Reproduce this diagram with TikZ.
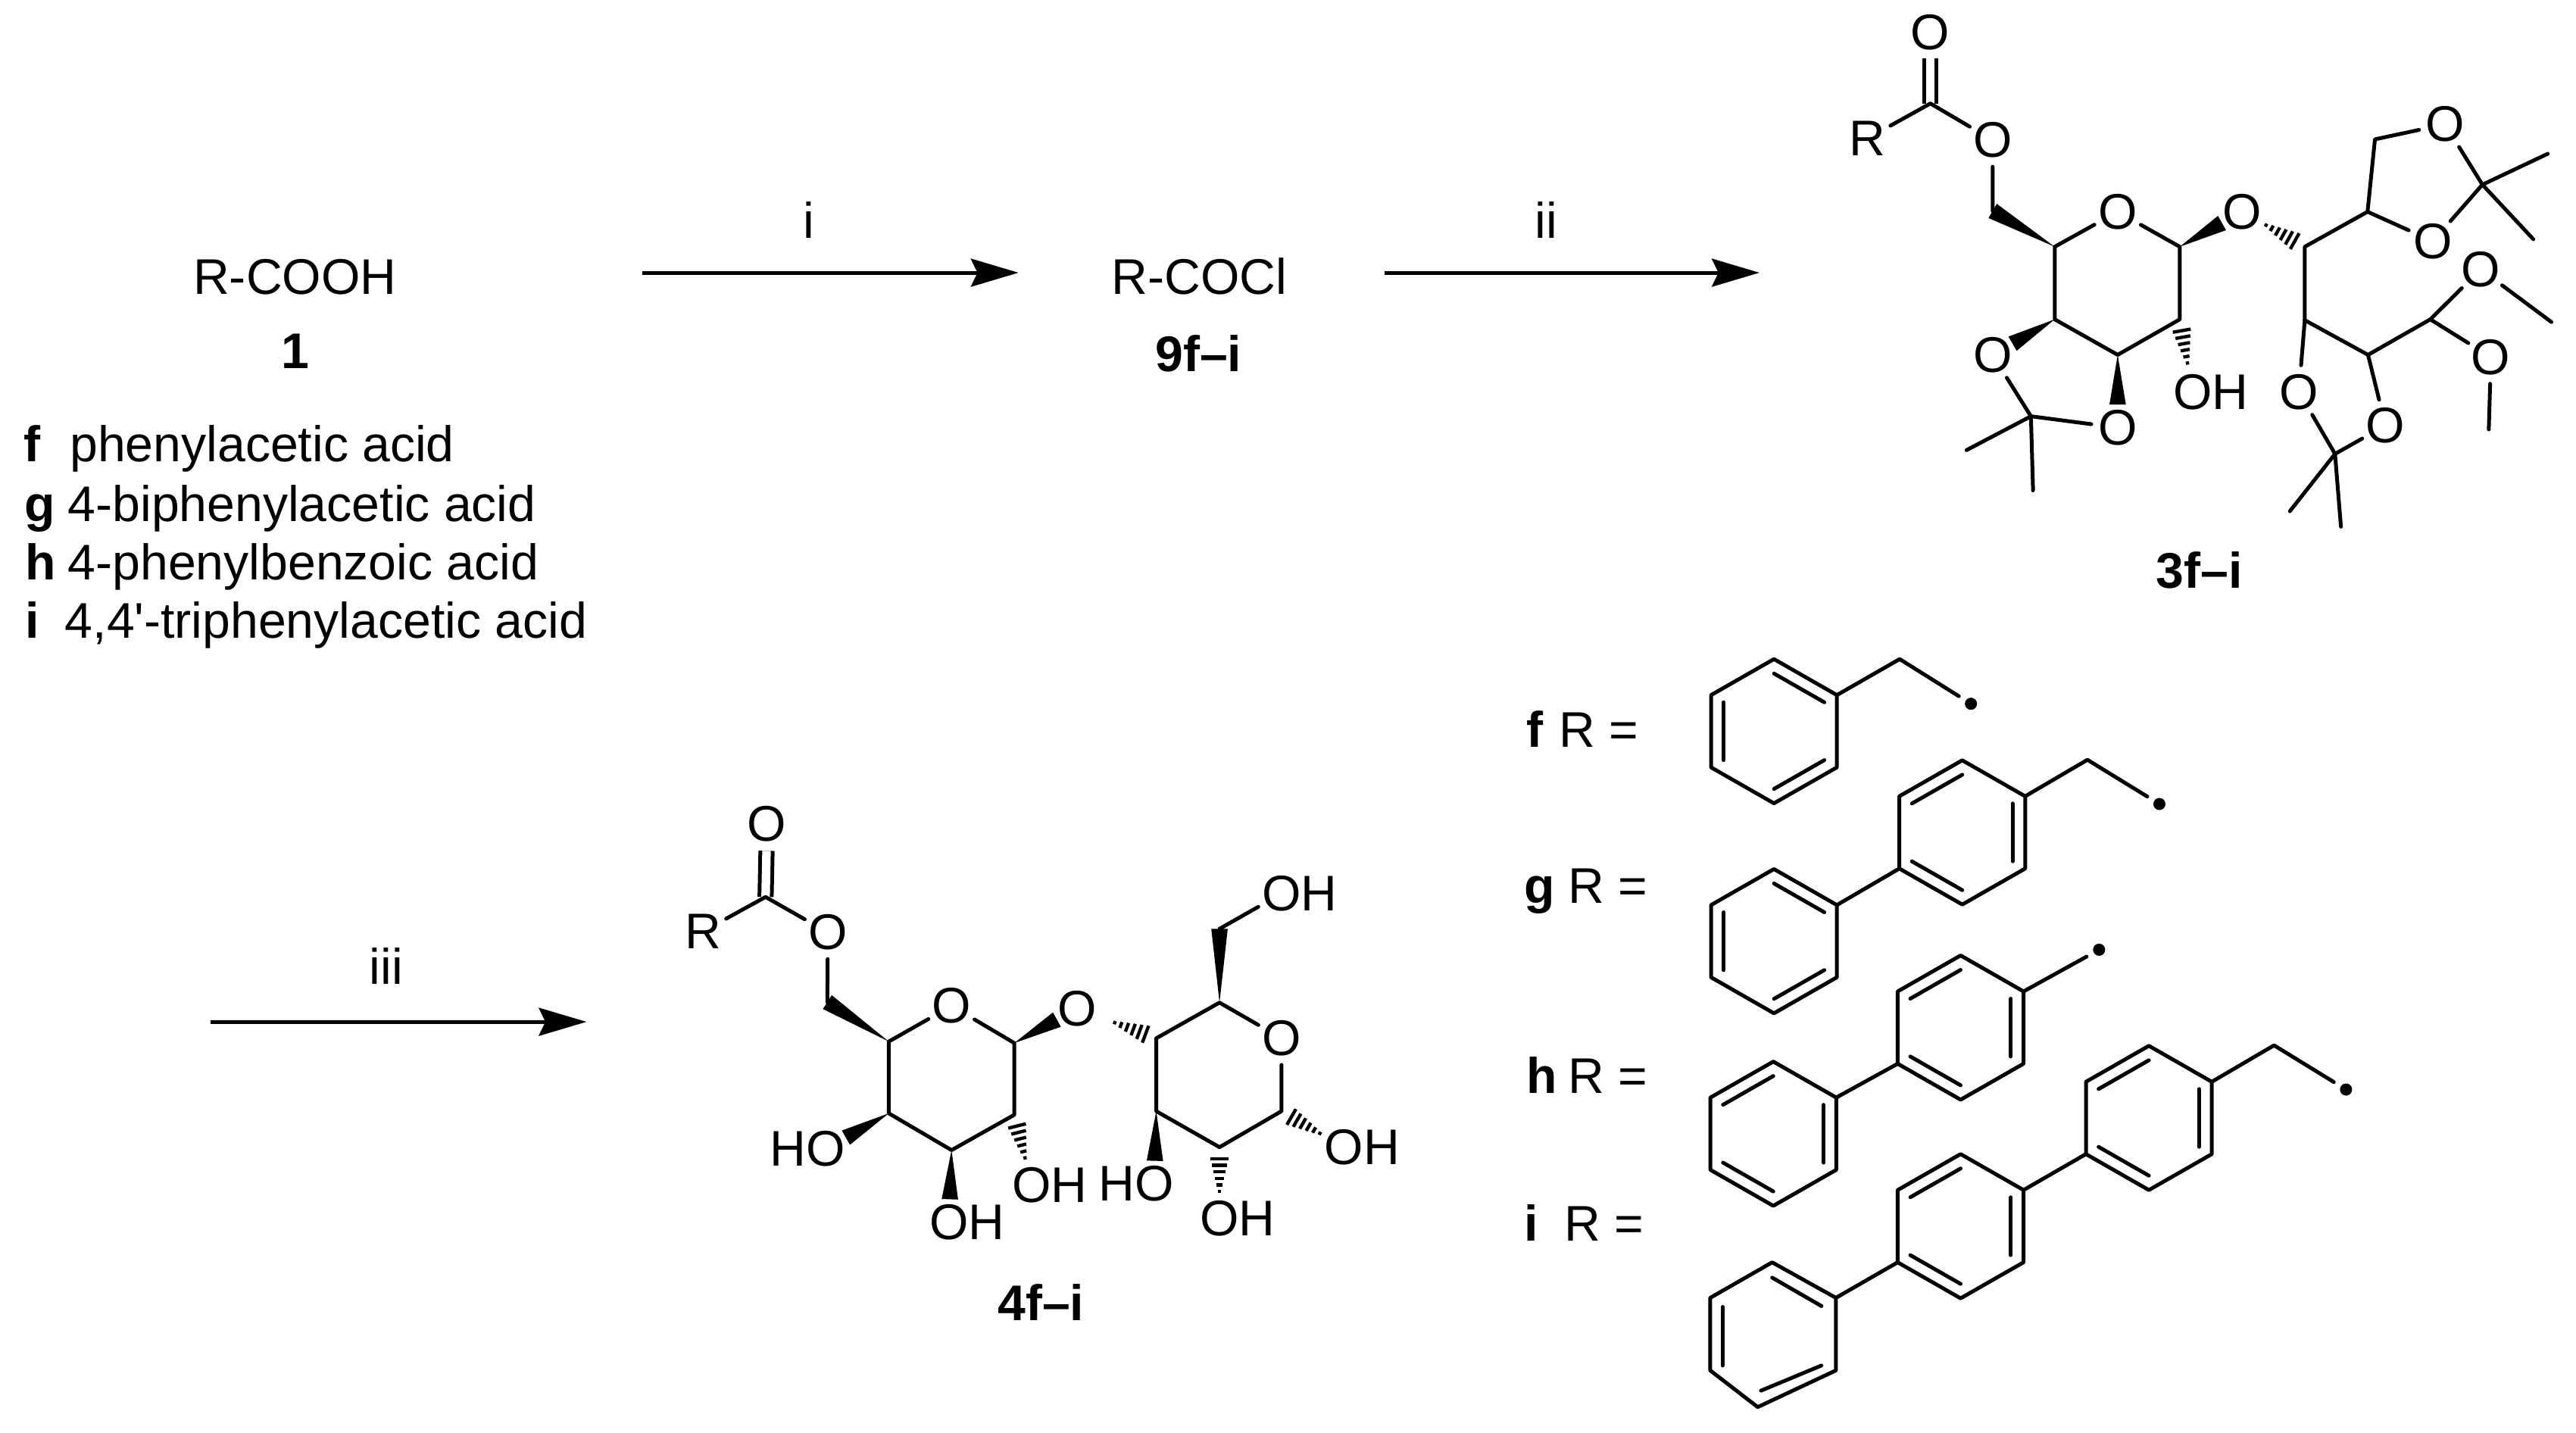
\documentclass[tikz,border=0pt]{standalone}
\usepackage{fontspec}
\setmainfont{Liberation Sans}
\usetikzlibrary{arrows.meta,calc}
\newcommand{\chemfont}{\fontsize{30.5}{32}\selectfont}
% wedge and hashed bonds, from the stereo centre to the atom
\newcommand{\wdg}[3][14pt]{
	\coordinate (wb) at ($(#3)!#1!(#2)$);
	\fill ($(#2)$) -- ($(wb)!5pt!90:(#2)$) -- ($(wb)!5pt!-90:(#2)$) -- cycle;
}
\newcommand{\hashb}[2]{
	\foreach \i [evaluate=\i as \dd using 7+4*\i, evaluate=\i as \hl using 5.5-.9*\i] in {0,...,5}{
		\coordinate (hs) at ($(#1)!\dd pt!(#2)$);
		\draw[line width=2pt] ($(hs)!\hl pt!90:(#2)$) -- ($(hs)!\hl pt!-90:(#2)$);
	}
}
\tikzset{
	atm/.style = { circle, inner sep=0pt, minimum size=32pt, font=\chemfont },
	lbl/.style = { anchor=base, inner sep=0pt, font=\chemfont },
	lbll/.style = { lbl, anchor=base west },
	cmpd/.style = { lbl, font=\chemfont\bfseries },
	bond/.style = { line width=2.3pt, line cap=round, line join=round },
	dbl/.style = { line width=2.3pt, double, double distance=5.2pt },
	rxn/.style = { line width=2.3pt, -{Stealth[length=29pt,width=17pt,inset=4pt]} },
	rad/.style = { circle, fill, inner sep=0pt, minimum size=7.4pt, outer sep=5pt },
	pics/ring/.style = { code = {
		\foreach \v/\x/\y in {1/0/-43.9,2/38.3/-22,3/38.3/22,4/0/43.9,5/-38.3/22,6/-38.3/-22}
			\coordinate (-\v) at (\x,\y);
		\draw[bond] (-1) -- (-2) -- (-3) -- (-4) -- (-5) -- (-6) -- cycle;
		\foreach \p/\q in {#1}
			\draw[bond] ($(0,0)!.8!(-\p)$) -- ($(0,0)!.8!(-\q)$);
	}},
}

\begin{document}
\begin{tikzpicture}[x=1pt,y=-1pt]
\useasboundingbox (0,0) rectangle (1568,872.2);

% acid and acid chloride
\node (acid)  [lbl]  at (179.5,179.3) {R-COOH};
\node (acidn) [cmpd] at (179.9,224.1) {1};
\node (lf)  [lbll,font=\chemfont\bfseries] at (14.4,280.9) {f};
\node (lg)  [lbll,font=\chemfont\bfseries] at (14.8,317.2) {g};
\node (lh)  [lbll,font=\chemfont\bfseries] at (15.2,353) {h};
\node (li)  [lbll,font=\chemfont\bfseries] at (15.2,388.6) {i};
\node (tf)  [lbll] at (42.4,280.9) {phenylacetic acid};
\node (tg)  [lbll] at (41.2,317.2) {4-biphenylacetic acid};
\node (th)  [lbll] at (41.2,353) {4-phenylbenzoic acid};
\node (ti)  [lbll] at (39.4,388.6) {4,4\textquotesingle-triphenylacetic acid};
\node (chl)  [lbl]  at (730,179.3) {R-COCl};
\node (chln) [cmpd] at (729.5,226) {9f–i};

% arrows
\coordinate (a1s) at (391,166);
\coordinate (a1e) at (620,166);
\coordinate (a2s) at (843,166);
\coordinate (a2e) at (1071,166);
\coordinate (a3s) at (128,622);
\coordinate (a3e) at (357,622);
\draw[rxn] (a1s) -- (a1e);
\draw[rxn] (a2s) -- (a2e);
\draw[rxn] (a3s) -- (a3e);
\node (si)   [lbl] at (492.2,145) {i};
\node (sii)  [lbl] at (941,145) {ii};
\node (siii) [lbl] at (235,599) {iii};

% protected ester 3
\node (koa) [atm] at (1175,19.5) {O};
\coordinate (kca) at (1175,63);
\node (rra) [atm] at (1136.5,84.4) {R};
\node (eoa) [atm] at (1212.9,85.3) {O};
\coordinate (mca) at (1212.9,128.4);
\coordinate (c5a) at (1250.7,150.2);
\node (ora) [atm] at (1289,128.9) {O};
\coordinate (c1a) at (1326.8,150.2);
\coordinate (c2a) at (1326.8,194.4);
\coordinate (c3a) at (1289,216);
\coordinate (c4a) at (1250.7,194.4);
\node (oga) [atm] at (1364.7,128.9) {O};
\node (oha) [atm] at (1334.6,238.5) {O\rlap{H}};
\node (o4a) [atm] at (1212.9,216.2) {O};
\node (o3a) [atm] at (1289,260.3) {O};
\coordinate (qaa) at (1236.2,253.4);
\coordinate (maa) at (1197,274);
\coordinate (mba) at (1237.5,298.5);
\coordinate (d4a) at (1402.9,150.2);
\coordinate (d3a) at (1402.9,194.9);
\coordinate (dna) at (1441.1,128.9);
\coordinate (dma) at (1445.6,84.8);
\node (o5a) [atm] at (1488.3,75.7) {O};
\node (o6a) [atm] at (1480.9,146.8) {O};
\coordinate (qba) at (1511,112.4);
\coordinate (mca1) at (1550.8,93.6);
\coordinate (mca2) at (1542,145.6);
\coordinate (d2a) at (1441.4,216);
\coordinate (d1a) at (1479.3,194.4);
\node (o7a) [atm] at (1510,164) {O};
\coordinate (mea) at (1553,196);
\node (o8a) [atm] at (1516.2,217.4) {O};
\coordinate (mfa) at (1514.9,261.4);
\node (o9a) [atm] at (1399.3,238.5) {O};
\node (oxa) [atm] at (1452,259) {O};
\coordinate (qca) at (1421.3,276.3);
\coordinate (mga) at (1393.8,311.2);
\coordinate (mha) at (1424.9,320.6);
\draw[dbl] (koa) -- (kca);
\draw[bond] (rra) -- (kca) -- (eoa) -- (mca);
\wdg[0pt]{c5a}{mca}
\draw[bond] (c5a) -- (ora) -- (c1a) -- (c2a) -- (c3a) -- (c4a) -- (c5a);
\wdg{c1a}{oga}
\hashb{d4a}{oga}
\hashb{c2a}{oha}
\wdg{c4a}{o4a}
\wdg{c3a}{o3a}
\draw[bond] (o4a) -- (qaa) -- (o3a);
\draw[bond] (maa) -- (qaa) -- (mba);
\draw[bond] (d3a) -- (d4a) -- (dna) -- (dma) -- (o5a) -- (qba) -- (o6a) -- (dna);
\draw[bond] (mca1) -- (qba) -- (mca2);
\draw[bond] (d3a) -- (d2a) -- (d1a) -- (o7a) -- (mea);
\draw[bond] (d1a) -- (o8a) -- (mfa);
\draw[bond] (d3a) -- (o9a) -- (qca) -- (oxa) -- (d2a);
\draw[bond] (mga) -- (qca) -- (mha);
\node (n3) [cmpd] at (1338.8,358) {3f–i};

% deprotected ester 4
\node (kob) [atm] at (466.9,501.7) {O};
\coordinate (kcb) at (466,546);
\node (rrb) [atm] at (427.8,567) {R};
\node (eob) [atm] at (503.9,567.6) {O};
\coordinate (mcb) at (503.6,610);
\coordinate (c5b) at (541,634);
\node (orb) [atm] at (579.2,612.3) {O};
\coordinate (c1b) at (617.4,634.9);
\coordinate (c2b) at (617.4,678.6);
\coordinate (c3b) at (579.2,700.1);
\coordinate (c4b) at (541,677.7);
\node (ogb) [atm] at (655.6,613.9) {O};
\coordinate (d4b) at (703.8,632);
\coordinate (d5b) at (742.3,610.3);
\coordinate (dmb) at (742.3,565.4);
\node (ohm) [atm] at (780,544) {O\rlap{H}};
\node (ord) [atm] at (780,632) {O};
\coordinate (d1b) at (780,676.4);
\coordinate (d2b) at (742.3,698.3);
\coordinate (d3b) at (703.8,676.4);
\node (oh1) [atm] at (818,698.3) {O\rlap{H}};
\node (oh2) [atm] at (742.3,741.9) {O\rlap{H}};
\node (oh3) [atm] at (702.6,720.6) {\llap{H}O};
\node (oh4) [atm] at (628,721.3) {O\rlap{H}};
\node (oh5) [atm] at (577.7,744) {O\rlap{H}};
\node (oh6) [atm] at (502.7,699.4) {\llap{H}O};
\draw[dbl] (kob) -- (kcb);
\draw[bond] (rrb) -- (kcb) -- (eob) -- (mcb);
\wdg[0pt]{c5b}{mcb}
\draw[bond] (c5b) -- (orb) -- (c1b) -- (c2b) -- (c3b) -- (c4b) -- (c5b);
\wdg{c1b}{ogb}
\hashb{d4b}{ogb}
\hashb{c2b}{oh4}
\wdg{c3b}{oh5}
\wdg{c4b}{oh6}
\draw[bond] (d4b) -- (d5b) -- (ord) -- (d1b) -- (d2b) -- (d3b) -- (d4b);
\wdg[0pt]{d5b}{dmb}
\draw[bond] (dmb) -- (ohm);
\wdg{d3b}{oh3}
\hashb{d2b}{oh2}
\hashb{d1b}{oh1}
\node (n4) [cmpd] at (633.6,803.7) {4f–i};

% R groups
\node (rf) [lbll] at (928.8,454.7) {\textbf{f}\hspace{10pt}R =};
\node (rg) [lbll] at (927.7,549.7) {\textbf{g}\hspace{8pt}R =};
\node (rh) [lbll] at (928.8,665.7) {\textbf{h}\hspace{7pt}R =};
\node (ri) [lbll] at (927.7,755.4) {\textbf{i}\hspace{16pt}R =};

\pic (fa) at (1079.8,445.1) {ring={1/2,3/4,5/6}};
\coordinate (fm) at (1156.3,401.2);
\node (fd) [rad] at (1199.7,428.4) {};
\draw[bond] (fa-2) -- (fm) -- (fd);

\pic (ga) at (1079.8,572.9) {ring={1/2,3/4,5/6}};
\pic (gb) at (1194.4,506.7) {ring={6/1,2/3,4/5}};
\coordinate (gm) at (1270.6,462.5);
\node (gd) [rad] at (1314.4,489.4) {};
\draw[bond] (ga-2) -- (gb-5);
\draw[bond] (gb-2) -- (gm) -- (gd);

\pic (ha) at (1079.4,690.1) {ring={6/1,2/3,4/5}};
\pic (hb) at (1193.4,625.5) {ring={6/1,2/3,4/5}};
\node (hd) [rad] at (1277.7,578.1) {};
\draw[bond] (ha-2) -- (hb-5);
\draw[bond] (hb-2) -- (hd);

\coordinate (ia1) at (1078.7,768.4);
\coordinate (ia2) at (1117.5,790);
\coordinate (ia3) at (1117.5,834.2);
\coordinate (ia4) at (1069.9,856.5);
\coordinate (ia5) at (1041,834.2);
\coordinate (ia6) at (1041,790);
\draw[bond] (ia1) -- (ia2) -- (ia3) -- (ia4) -- (ia5) -- (ia6) -- cycle;
\draw[bond] ($(ia1)+(0,9.3)$) -- ($(ia2)+(-8.8,5)$);
\draw[bond] ($(ia3)+(-8.8,-3)$) -- ($(ia4)+(2,-10)$);
\draw[bond] ($(ia5)+(7.5,-3)$) -- ($(ia6)+(7.5,5.5)$);
\pic (ib) at (1193.4,746.4) {ring={6/1,2/3,4/5}};
\pic (ic) at (1308,680.5) {ring={6/1,2/3,4/5}};
\coordinate (im) at (1384.2,636.3);
\node (id) [rad] at (1428,663.2) {};
\draw[bond] (ia2) -- (ib-5);
\draw[bond] (ib-2) -- (ic-5);
\draw[bond] (ic-2) -- (im) -- (id);

\end{tikzpicture}
\end{document}
